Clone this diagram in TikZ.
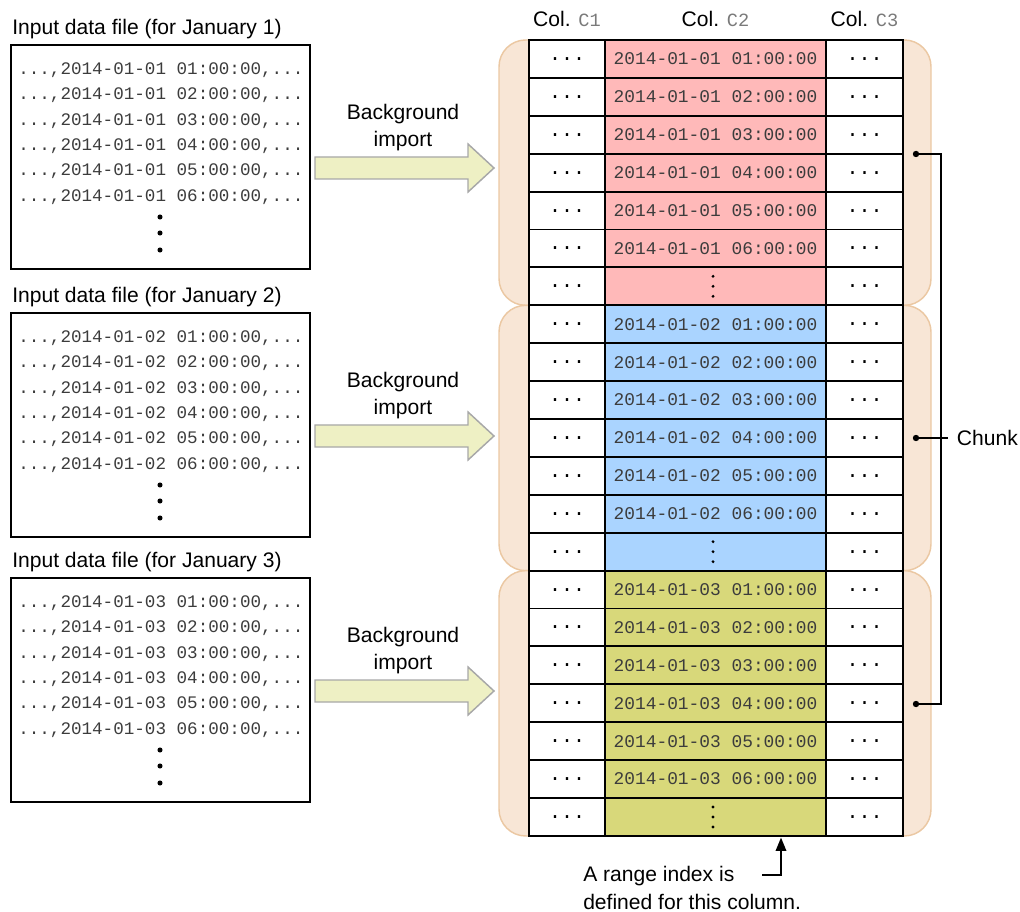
\documentclass[tikz,border=0pt]{standalone}
\usepackage{fontspec}
\setmainfont{Liberation Sans}
\setmonofont{Liberation Mono}
\usetikzlibrary{arrows.meta,positioning}

\definecolor{chunkfill}{HTML}{F8E6D6}
\definecolor{chunkedge}{HTML}{EBC8A3}
\definecolor{dayone}{HTML}{FFB9B9}
\definecolor{daytwo}{HTML}{AAD4FF}
\definecolor{daythree}{HTML}{D8D87A}
\definecolor{importfill}{HTML}{EEF0C4}
\definecolor{importedge}{HTML}{A8A8A8}
\definecolor{codegray}{HTML}{3C3C3C}
\definecolor{colgray}{HTML}{7A7A7A}

\newcommand\diagtext{\fontsize{15.8}{20.3}\selectfont}
\newcommand\diagcode{\fontsize{13.2}{15}\selectfont\ttfamily}
\newcommand\diagcell{\fontsize{13.4}{16}\selectfont\ttfamily}
\newcommand\diagdots{\fontsize{15}{16}\selectfont\ttfamily}

\tikzset{
  filebox/.style={draw, line width=1.4pt, anchor=north west, inner sep=0pt,
    minimum width=224.25pt, minimum height=168pt},
  filetitle/.style={inner sep=0pt, font=\diagtext},
  fileline/.style={anchor=west, inner sep=0pt, font=\diagcode, text=codegray},
  importarrow/.style={fill=importfill, draw=importedge, line width=1.1pt},
  arrowlabel/.style={inner sep=0pt, align=center, font=\diagtext},
  chunkbox/.style={draw=chunkedge, fill=chunkfill, line width=1.1pt,
    rounded corners=20pt, minimum width=324pt, minimum height=199pt},
  cell/.style={draw, line width=1.4pt, fill=white, inner sep=0pt, minimum height=28.43pt},
  dotcell/.style={cell, font=\diagdots},
  datecell/.style={cell, font=\diagcell, text=codegray, minimum width=165.75pt},
  colhead/.style={inner sep=0pt, font=\diagtext},
  bracket/.style={line width=1pt},
  idxarrow/.style={line width=1pt, -{Triangle[width=8pt,length=10pt]}, shorten >=0.6pt},
}

\begin{document}
\begin{tikzpicture}[x=0.75pt, y=-0.75pt]
  \useasboundingbox (0,0) rectangle (1020,912);
  % ── input data files, one per day ──
  \foreach \k/\ftop in {1/44,2/312,3/577} {
    \node[filebox] (file\k) at (10,\ftop) {};
    \node[filetitle, above right=3.5pt and 1.5pt of file\k.north west] (title\k)
      {Input data file (for January \k)};
    \foreach \i in {1,...,6}
      \node[fileline] (line\k-\i) at ([shift={(8,{26+25.4*(\i-1)})}]file\k.north west)
        {...,2014-01-0\k{} 0\i:00:00,...};
    \foreach \dy in {173,189,206}
      \fill ([shift={(150,\dy)}]file\k.north west) circle (1.9pt);
  }
  % ── background import arrows ──
  \foreach \k/\y in {1/168,2/436,3/691} {
    \coordinate (tail\k) at (315,\y);
    \draw[importarrow] (tail\k) ++(0,-11) -- ++(153,0) -- ++(0,-13) -- ++(26,24)
      -- ++(-26,24) -- ++(0,-13) -- ++(-153,0) -- cycle;
    \node[arrowlabel] (bg\k) at ([shift={(88,-40.5)}]tail\k) {Background\\import};
  }
  % ── chunks behind the table ──
  \foreach \k in {1,2,3}
    \node[chunkbox] (chunk\k) at (715,{40+265.33*(\k-0.5)}) {};
  % ── table rows: 7 per chunk ──
  \foreach \k/\tint in {1/dayone,2/daytwo,3/daythree} {
    \foreach \i in {1,...,7} {
      \pgfmathsetmacro\rowy{40+37.9*(7*\k-7+\i-0.5)}
      \node[dotcell, minimum width=57pt] (c1-\k-\i) at (567,\rowy) {...};
      \node[datecell, fill=\tint] (c2-\k-\i) at (715.5,\rowy)
        {\ifnum\i<7 2014-01-0\k{} 0\i:00:00\fi};
      \node[dotcell, minimum width=57.75pt] (c3-\k-\i) at (864.5,\rowy) {...};
      \ifnum\i=7
        \foreach \dy in {-10,0,10}
          \fill ([shift={(-2.5,\dy)}]c2-\k-\i.center) circle (1.2pt);
      \fi
    }
  }
  % ── column headings ──
  \foreach \cc in {1,2,3}
    \node[colhead, above=9pt of c\cc-1-1] (head\cc)
      {Col. {\color{colgray}\fontsize{14}{16}\selectfont\ttfamily C\cc}};
  % ── chunk bracket ──
  \coordinate (grpTop) at (916,154);
  \coordinate (grpMid) at (916,438);
  \coordinate (grpBot) at (916,704);
  \node[colhead, inner xsep=6.5pt, anchor=west] (chunkname) at (948,438) {Chunk};
  \draw[bracket] (grpTop) -- ++(25,0) |- (grpBot);
  \draw[bracket] (grpMid) -- (chunkname.west);
  \foreach \p in {grpTop,grpMid,grpBot} \fill (\p) circle (2.4pt);
  % ── range index note ──
  \node[inner sep=0pt, anchor=north west, align=left, font=\fontsize{15.8}{21}\selectfont]
    (note) at (583,866) {A range index is\\defined for this column.};
  \coordinate (hook) at (762,875);
  \draw[idxarrow] (hook) -| ([shift={(65.5,0)}]c2-3-7.south);
\end{tikzpicture}
\end{document}
